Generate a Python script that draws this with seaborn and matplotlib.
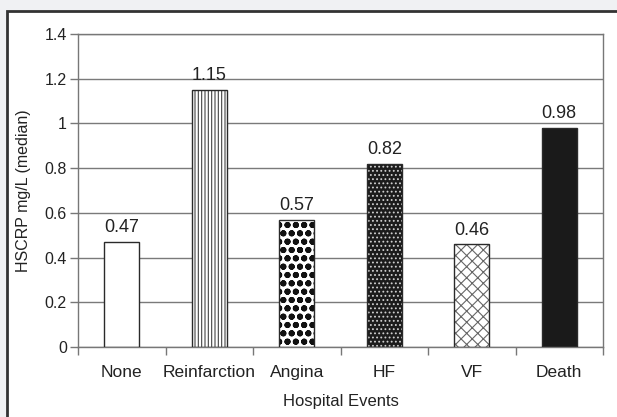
import numpy as np
import matplotlib
matplotlib.use("Agg")
import matplotlib.pyplot as plt
from matplotlib.patches import Rectangle
from matplotlib.ticker import FixedLocator, FuncFormatter
import seaborn as sns

categories = ["None", "Reinfarction", "Angina", "HF", "VF", "Death"]
values = [0.47, 1.15, 0.57, 0.82, 0.46, 0.98]
y_ticks = [0, 0.2, 0.4, 0.6, 0.8, 1.0, 1.2, 1.4]
x_label = "Hospital Events"
y_label = "HSCRP mg/L (median)"

# per-bar fill styles: (facecolor, hatch, hatch colour)
styles = [
    ("white", "", "white"),
    ("white", "|||||", "#444444"),
    ("white", "oo", "#111111"),
    ("#1c1c1c", "....", "#d0d0d0"),
    ("white", "xxx", "#666666"),
    ("#1a1a1a", "", "#1a1a1a"),
]

sns.set_style("white")
plt.rcParams["font.family"] = ["Liberation Sans", "DejaVu Sans"]
plt.rcParams["hatch.linewidth"] = 0.8

W, H = 617, 417
fig = plt.figure(figsize=(W / 100, H / 100), dpi=100, facecolor="#f0f1f3")
panel = Rectangle((7 / W, -0.2), 2, (H - 11) / H + 0.2, transform=fig.transFigure,
                  facecolor="white", edgecolor="#333333", lw=2, zorder=-10)
fig.patches.append(panel)

ax = fig.add_axes([78 / W, 1 - 347 / H, 525 / W, 313 / H])
ax.set_zorder(5)
ax.set_facecolor("white")

sns.barplot(x=categories, y=values, ax=ax, width=0.4, color="white",
            linewidth=0, zorder=2)
fill_bars = list(ax.containers[0])
for p, (fc, hatch, hc) in zip(fill_bars, styles):
    p.set_facecolor(fc)
    p.set_edgecolor(hc)
    p.set_hatch(hatch)
    p.set_linewidth(0)
    if hatch == "oo" and hasattr(p, "set_hatch_linewidth"):
        p.set_hatch_linewidth(2.0)

sns.barplot(x=categories, y=values, ax=ax, width=0.4, fill=False,
            color="#2a2a2a", linewidth=1.0, zorder=3)

for x, v in zip(range(len(categories)), values):
    ax.annotate(f"{v:.2f}", (x, v), xytext=(0, 4), textcoords="offset points",
                ha="center", va="bottom", fontsize=13, color="#222222")

ax.set_xlim(-0.5, len(categories) - 0.5)
ax.set_ylim(0, 1.4)
ax.set_yticks(y_ticks)
ax.yaxis.set_major_formatter(FuncFormatter(lambda v, _: f"{v:g}"))
ax.set_axisbelow(True)
ax.yaxis.grid(True, color="#7a7a7a", lw=1.0)
ax.xaxis.grid(False)

ax.set_xticks(range(len(categories)))
ax.set_xticklabels(categories)
ax.xaxis.set_minor_locator(FixedLocator(np.arange(-0.5, len(categories), 1)))
ax.tick_params(axis="x", which="major", length=0, pad=13, labelsize=12.5,
               labelcolor="#222222")
ax.tick_params(axis="x", which="minor", length=6, width=1, color="#777777",
               direction="out", bottom=True)
ax.tick_params(axis="y", which="major", length=6, width=1, color="#777777",
               direction="out", left=True, pad=2, labelsize=11.5,
               labelcolor="#222222")

for s in ax.spines.values():
    s.set_visible(True)
    s.set_color("#777777")
    s.set_linewidth(1.0)

ax.set_xlabel(x_label, fontsize=12, color="#222222", labelpad=10)
ax.set_ylabel(y_label, fontsize=11.5, color="#222222", labelpad=10)

fig.savefig("out.png", dpi=100, facecolor=fig.get_facecolor())
